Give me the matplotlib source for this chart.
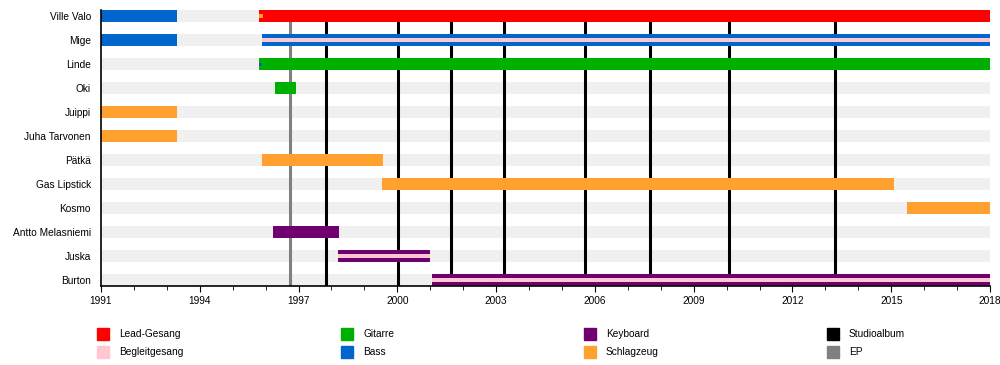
import matplotlib
matplotlib.use("Agg")
import matplotlib.pyplot as plt
from matplotlib.patches import Rectangle

plt.rcParams['font.family'] = ['Liberation Sans', 'DejaVu Sans']

members = ["Ville Valo", "Mige", "Linde", "Oki", "Juippi", "Juha Tarvonen",
           "Pätkä", "Gas Lipstick", "Kosmo", "Antto Melasniemi", "Juska", "Burton"]

# (member, start, end)
lead_vocals = [("Ville Valo", 1995.8, 2018.0)]
backing_vocals = [("Mige", 1995.9, 2018.0), ("Juska", 1998.2, 2001.0),
                  ("Burton", 2001.05, 2018.0)]
guitar = [("Linde", 1995.8, 2018.0), ("Oki", 1996.28, 1996.92)]
bass = [("Ville Valo", 1991.0, 1993.3), ("Mige", 1991.0, 1993.3),
        ("Mige", 1995.9, 2018.0)]
keyboard = [("Antto Melasniemi", 1996.22, 1998.23), ("Juska", 1998.2, 2001.0),
            ("Burton", 2001.05, 2018.0)]
drums = [("Juippi", 1991.0, 1993.3), ("Juha Tarvonen", 1991.0, 1993.3),
         ("Pätkä", 1995.9, 1999.56), ("Gas Lipstick", 1999.53, 2015.08),
         ("Kosmo", 2015.48, 2018.0)]
# short overlaps at the start
short_drums = [("Ville Valo", 1995.8, 1995.92)]
short_bass = [("Linde", 1995.8, 1995.9)]

studio_albums = [1997.83, 2000.02, 2001.63, 2003.24, 2005.70, 2007.67, 2010.07, 2013.29]
eps = [1996.74]

start_year, end_year = 1991, 2018
major_ticks = list(range(1991, 2019, 3))

legend_labels = ["Lead-Gesang", "Begleitgesang", "Gitarre", "Bass",
                 "Keyboard", "Schlagzeug", "Studioalbum", "EP"]

RED = "#ff0000"
PINK = "#ffc8d0"
GREEN = "#00b000"
BLUE = "#0066cc"
PURPLE = "#700070"
ORANGE = "#ffa12e"
BLACK = "#000000"
GRAY = "#808080"
legend_colors = [RED, PINK, GREEN, BLUE, PURPLE, ORANGE, BLACK, GRAY]

fig = plt.figure(figsize=(10, 3.65), dpi=100)
ax = fig.add_axes([0.101, 1 - 286 / 365, 0.889, 276 / 365])

row = {m: i for i, m in enumerate(members)}
H = 0.5

# background bars
ax.barh(range(len(members)), end_year - start_year, left=start_year, height=H,
        color="#f0f0f0", zorder=0)


def draw(segs, color, height=H, z=3):
    for m, s, e in segs:
        ax.barh(row[m], e - s, left=s, height=height, color=color, zorder=z,
                linewidth=0)


draw(lead_vocals, RED)
draw(guitar, GREEN)
draw(bass, BLUE)
draw(keyboard, PURPLE)
draw(drums, ORANGE)
draw(backing_vocals, PINK, height=H / 3, z=4)
draw(short_drums, ORANGE, height=H / 3, z=4)
draw(short_bass, BLUE, height=H / 4, z=4)

ax.vlines(studio_albums, -0.25, 11.25, color=BLACK, linewidth=2.2, zorder=2)
ax.vlines(eps, -0.25, 11.25, color=GRAY, linewidth=2.2, zorder=2)

ax.set_xlim(start_year, end_year)
ax.set_ylim(11.25, -0.25)
ax.set_yticks(range(len(members)))
ax.set_yticklabels(members, fontsize=7.3)
ax.tick_params(axis='y', length=0, pad=7.2)
ax.set_xticks(major_ticks)
ax.set_xticks(range(start_year, end_year + 1), minor=True)
ax.tick_params(axis='x', which='major', length=4, labelsize=7.3, pad=3)
ax.tick_params(axis='x', which='minor', length=3)
for sp in ["top", "right"]:
    ax.spines[sp].set_visible(False)
for sp in ["left", "bottom"]:
    ax.spines[sp].set_linewidth(1.2)
    ax.spines[sp].set_zorder(5)

# legend
col_x = [97, 341, 584, 827]
row_y = [334, 352]
for i, (lab, c) in enumerate(zip(legend_labels, legend_colors)):
    x = col_x[i // 2]
    y = row_y[i % 2]
    fig.patches.append(Rectangle((x / 1000, 1 - (y + 6) / 365), 12 / 1000, 12 / 365,
                                 transform=fig.transFigure, color=c, figure=fig))
    fig.text((x + 22) / 1000, 1 - y / 365, lab, fontsize=7.3, va="center", ha="left")

fig.savefig("out.png", dpi=100)
